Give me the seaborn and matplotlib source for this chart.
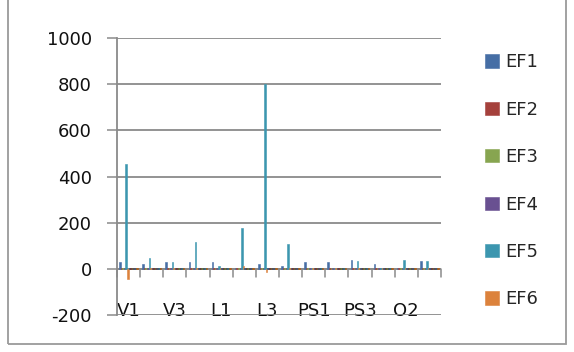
import matplotlib
matplotlib.use("Agg")
import matplotlib.pyplot as plt
import seaborn as sns
import pandas as pd
from matplotlib.patches import Rectangle

categories = ["V1", "V2", "V3", "V4", "L1", "L2", "L3", "L4",
              "PS1", "PS2", "PS3", "O1", "O2", "O3"]
tick_labels = ["V1", "", "V3", "", "L1", "", "L3", "", "PS1", "", "PS3", "", "O2", ""]

series_names = ["EF1", "EF2", "EF3", "EF4", "EF5", "EF6",
                "EF7", "EF8", "EF9", "EF10", "EF11", "EF12"]
legend_series = series_names[:6]

ef1 = [31, 23, 31, 31, 31, 3, 23, 13, 30, 30, 40, 22, 3, 32]
ef2 = [5, 4, 5, 4, 5, 4, 5, 4, 5, 4, 5, 4, 5, 4]
ef3 = [4, 5, 4, 5, 4, 5, 4, 5, 4, 5, 4, 5, 4, 5]
ef4 = [5, 4, 5, 4, 5, 4, 5, 4, 5, 4, 5, 4, 5, 4]
ef5 = [455, 49, 31, 118, 14, 179, 800, 109, 3, 3, 32, 3, 40, 32]
ef6 = [-42, 4, 3, 4, 3, 12, -12, 4, 3, 4, 3, 4, 3, 4]
ef7 = [5, 5, 4, 5, 5, 4, 5, 5, 4, 5, 5, 4, 5, 5]
ef8 = [4, 5, 5, 4, 5, 5, 4, 5, 5, 4, 5, 5, 4, 5]
ef9 = [5, 4, 5, 5, 4, 5, 5, 4, 5, 5, 4, 5, 5, 4]
ef10 = [4, 5, 4, 4, 5, 4, 4, 5, 4, 4, 5, 4, 4, 5]
ef11 = [5, 4, 4, 5, 4, 4, 5, 4, 4, 5, 4, 4, 5, 4]
ef12 = [4, 4, 5, 4, 4, 5, 4, 4, 5, 4, 4, 5, 4, 4]

colors = ["#466EA5", "#A5413C", "#87A550", "#695091", "#3C96AF", "#DC823C",
          "#2C4D75", "#772C2A", "#5F7530", "#4D3B62", "#276A7C", "#B65708"]

all_vals = [ef1, ef2, ef3, ef4, ef5, ef6, ef7, ef8, ef9, ef10, ef11, ef12]
rows = []
for name, vals in zip(series_names, all_vals):
    for c, v in zip(categories, vals):
        rows.append({"cat": c, "series": name, "val": v})
df = pd.DataFrame(rows)

sns.set_theme(style="white")
plt.rcParams["font.family"] = ["DejaVu Sans"]
plt.rcParams["axes.unicode_minus"] = False

W, H = 574, 352
fig = plt.figure(figsize=(W / 100, H / 100), dpi=100)
ax = fig.add_axes([117 / W, 1 - 315 / H, (441 - 117) / W, (315 - 38) / H])

grid_col = "#8a8a8a"
sns.barplot(data=df, x="cat", y="val", hue="series", order=categories,
            hue_order=series_names, palette=colors, width=0.82, dodge=True,
            saturation=1, errorbar=None, ax=ax, zorder=3,
            linewidth=0, edgecolor="none")
for p in ax.patches:
    p.set_edgecolor(p.get_facecolor())
    p.set_linewidth(0.4)

ax.set_ylim(-200, 1000)
ax.set_xlim(-0.5, len(categories) - 0.5)
ax.set_yticks(range(-200, 1001, 200))
ax.yaxis.grid(True, color=grid_col, linewidth=1.3, zorder=0)
ax.set_axisbelow(True)
for s in ["top", "right", "bottom"]:
    ax.spines[s].set_visible(False)
ax.spines["left"].set_color(grid_col)
ax.spines["left"].set_linewidth(1.3)
ax.tick_params(axis="y", length=7, width=1.1, color=grid_col, pad=11,
               labelsize=13, labelcolor="#111111", left=True)
ax.set_xticks(range(len(categories)))
ax.set_xticklabels(tick_labels)
ax.tick_params(axis="x", length=0, pad=-9, labelsize=13, labelcolor="#111111")
ax.set_xlabel("")
ax.set_ylabel("")

# category axis at zero with boundary tick marks
ax.axhline(0, color=grid_col, linewidth=1.3, zorder=2)
for i in range(len(categories) + 1):
    ax.plot([i - 0.5, i - 0.5], [0, -36], color=grid_col, linewidth=1.1,
            zorder=2, clip_on=False)

handles, labels = ax.get_legend_handles_labels()
leg_h = [h for h, l in zip(handles, labels) if l in legend_series]
leg_l = [l for l in labels if l in legend_series]
if ax.get_legend() is not None:
    ax.get_legend().remove()
fig.legend(leg_h, leg_l, loc="upper left", bbox_to_anchor=(478 / W, 1 - 46 / H),
           frameon=False, fontsize=13, handlelength=0.75, handleheight=0.75,
           handletextpad=0.35, labelspacing=1.63, borderaxespad=0)

fig.add_artist(Rectangle((8 / W, 8 / H), (566 - 8) / W, 1.2, transform=fig.transFigure,
                         fill=False, edgecolor="#9a9a9a", linewidth=1.3))

fig.savefig("out.png", dpi=100)
